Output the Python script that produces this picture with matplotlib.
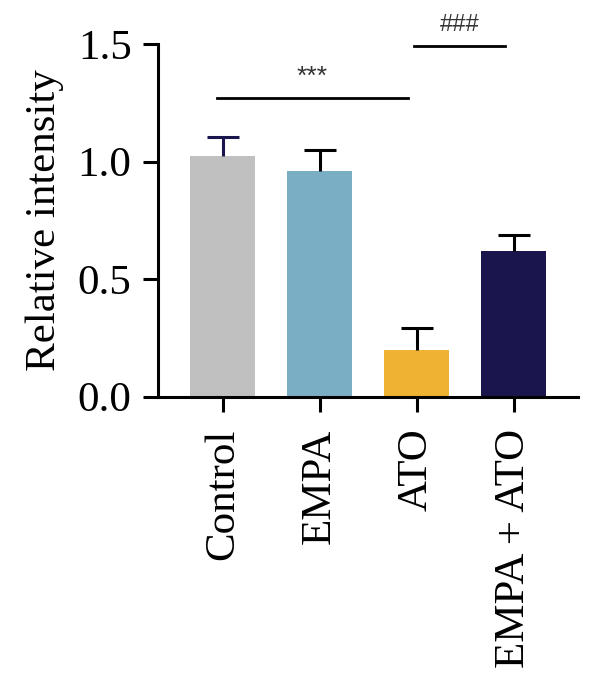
import numpy as np
import matplotlib.pyplot as plt

# data
groups = ["Control", "EMPA", "ATO", "EMPA + ATO"]
means = [1.024, 0.960, 0.197, 0.621]
errs = [0.081, 0.090, 0.094, 0.068]
bar_colors = ["#c0c0c0", "#7aaec4", "#f0b232", "#1a164d"]
err_colors = ["#1a164d", "black", "black", "black"]

plt.rcParams['font.family'] = ['Liberation Serif', 'DejaVu Serif']

fig = plt.figure(figsize=(6.0, 6.87), dpi=100)
ax = fig.add_axes([0.2633, 0.4226, 0.70, 0.5134])

x = np.arange(len(groups))
ax.bar(x, means, width=0.67, color=bar_colors, zorder=2)
# upper error bars only (single cap on top)
tops = np.array(means) + np.array(errs)
ax.vlines(x, means, tops, colors=err_colors, lw=2.2, zorder=3)
ax.hlines(tops, x - 0.165, x + 0.165, colors=err_colors, lw=2.2, zorder=3)

ax.set_xlim(-0.667, 3.66)
ax.set_ylim(0, 1.5)
ax.set_yticks([0.0, 0.5, 1.0, 1.5])
ax.set_yticklabels(["0.0", "0.5", "1.0", "1.5"])
ax.set_xticks(x)
ax.set_xticklabels(groups, rotation=90)
ax.tick_params(axis='both', labelsize=31, width=2.2, length=11, direction='out')
ax.tick_params(axis='x', pad=12)
ax.tick_params(axis='y', pad=8)
ax.set_ylabel("Relative intensity", fontsize=31, labelpad=10)

for s in ['top', 'right']:
    ax.spines[s].set_visible(False)
for s in ['left', 'bottom']:
    ax.spines[s].set_linewidth(2.2)

# significance marks
ax.plot([-0.056, 1.907], [1.27, 1.27], color='black', lw=2, clip_on=False)
ax.text(0.92, 1.31, "***", ha='center', va='bottom', fontsize=19,
        family='Liberation Sans', color='#333333')
ax.plot([1.97, 2.91], [1.49, 1.49], color='black', lw=2, clip_on=False)
ax.text(2.44, 1.535, "###", ha='center', va='bottom', fontsize=17,
        family='Liberation Sans', color='#333333')

fig.savefig("out.png", dpi=100)
